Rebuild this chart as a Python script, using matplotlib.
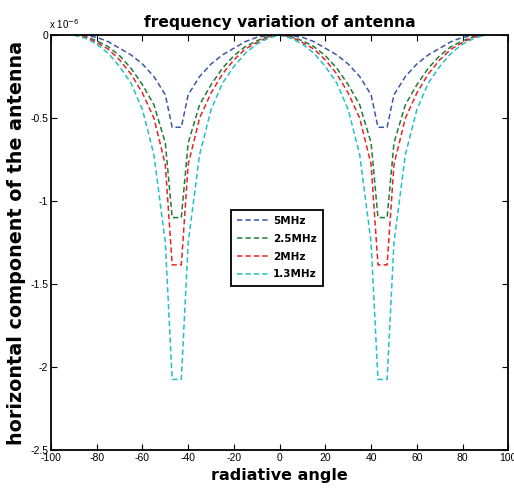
import numpy as np
import matplotlib.pyplot as plt

plt.rcParams['axes.unicode_minus'] = False

# radiative angle (deg)
angle = [-90, -85, -80, -75, -70, -65, -60, -55, -50, -47, -43, -40, -35, -30, -25, -20, -15, -10, -5, 0,
         5, 10, 15, 20, 25, 30, 35, 40, 43, 47, 50, 55, 60, 65, 70, 75, 80, 85, 90]

# horizontal component, in units of 1e-6
h_5mhz = [0, -0.004, -0.014, -0.04, -0.08, -0.12, -0.175, -0.25, -0.36, -0.556,
          -0.556, -0.36, -0.25, -0.175, -0.12, -0.08, -0.04, -0.014, -0.004, 0,
          -0.004, -0.014, -0.04, -0.08, -0.12, -0.175, -0.25, -0.36, -0.556,
          -0.556, -0.36, -0.25, -0.175, -0.12, -0.08, -0.04, -0.014, -0.004, 0]
h_2p5mhz = [0, -0.01, -0.035, -0.07, -0.125, -0.2, -0.3, -0.42, -0.65, -1.10,
            -1.10, -0.65, -0.42, -0.3, -0.2, -0.125, -0.07, -0.035, -0.01, 0,
            -0.01, -0.035, -0.07, -0.125, -0.2, -0.3, -0.42, -0.65, -1.10,
            -1.10, -0.65, -0.42, -0.3, -0.2, -0.125, -0.07, -0.035, -0.01, 0]
h_2mhz = [0, -0.012, -0.045, -0.085, -0.15, -0.235, -0.35, -0.5, -0.78, -1.385,
          -1.385, -0.78, -0.5, -0.35, -0.235, -0.15, -0.085, -0.045, -0.012, 0,
          -0.012, -0.045, -0.085, -0.15, -0.235, -0.35, -0.5, -0.78, -1.385,
          -1.385, -0.78, -0.5, -0.35, -0.235, -0.15, -0.085, -0.045, -0.012, 0]
h_1p3mhz = [0, -0.02, -0.055, -0.11, -0.19, -0.29, -0.45, -0.72, -1.25, -2.075,
            -2.075, -1.25, -0.72, -0.45, -0.29, -0.19, -0.11, -0.055, -0.02, 0,
            -0.02, -0.055, -0.11, -0.19, -0.29, -0.45, -0.72, -1.25, -2.075,
            -2.075, -1.25, -0.72, -0.45, -0.29, -0.19, -0.11, -0.055, -0.02, 0]

labels = ['5MHz', '2.5MHz', '2MHz', '1.3MHz']
colors = ['#3b57a8', '#1b7f35', '#e8232b', '#22c2c4']

fig = plt.figure(figsize=(5.14, 4.92), dpi=100)
ax = fig.add_axes([0.0992, 0.0854, 0.8897, 0.8435])

for y, lab, c in zip([h_5mhz, h_2p5mhz, h_2mhz, h_1p3mhz], labels, colors):
    ax.plot(angle, y, color=c, lw=1.1, linestyle=(0, (3.5, 2)), label=lab)

ax.set_xlim(-100, 100)
ax.set_ylim(-2.5, 0)
ax.set_xticks(np.arange(-100, 101, 20))
ax.set_yticks([-2.5, -2, -1.5, -1, -0.5, 0])
ax.set_yticklabels(['-2.5', '-2', '-1.5', '-1', '-0.5', '0'])
ax.tick_params(direction='in', length=4.5, width=0.8, top=True, right=True,
               labelsize=7.5, pad=2)
for lbl in ax.get_xticklabels() + ax.get_yticklabels():
    lbl.set_family('Liberation Sans')
for sp in ax.spines.values():
    sp.set_linewidth(1.3)

ax.text(-0.005, 1.01, r'x 10$^{-6}$', transform=ax.transAxes, fontsize=7,
        family='Liberation Sans', ha='left', va='bottom')

ax.set_title('frequency variation of antenna', fontsize=11.2, fontweight='bold', pad=6)
ax.set_xlabel('radiative angle', fontsize=11.5, fontweight='bold', labelpad=4)
ax.set_ylabel('horizontal component of the antenna', fontsize=13.8, fontweight='bold', labelpad=3)

leg = ax.legend(loc='lower left', bbox_to_anchor=(0.394, 0.396), borderaxespad=0,
                prop={'weight': 'bold', 'size': 7.5}, fancybox=False, framealpha=1,
                edgecolor='black', handlelength=3.0, handletextpad=0.4,
                borderpad=0.6, labelspacing=0.75)
leg.get_frame().set_linewidth(1.3)

fig.savefig('out.png', dpi=100)
